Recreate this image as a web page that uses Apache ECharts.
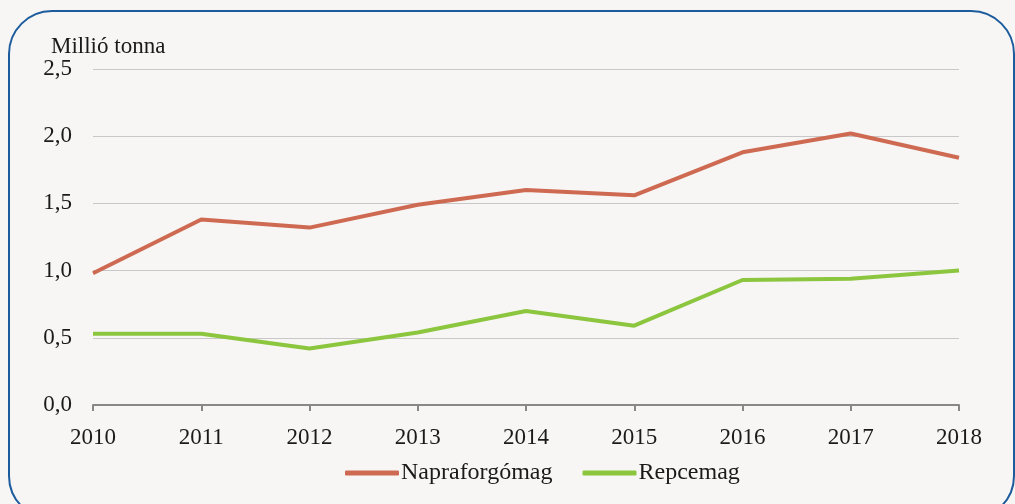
<!DOCTYPE html>
<html>
<head>
<meta charset="utf-8">
<script src="https://cdn.jsdelivr.net/npm/echarts@6/dist/echarts.min.js"></script>
<style>
  html, body { margin: 0; padding: 0; background: #f7f6f5; overflow: hidden; }
  .frame {
    position: absolute; left: 8px; top: 10px; width: 1007px; height: 510px;
    border: 2px solid #1d5c9c; border-radius: 44px; box-sizing: border-box;
  }
  #chart { position: absolute; left: 0; top: 0; width: 1015px; height: 504px; }
</style>
</head>
<body>
<div class="frame"></div>
<div id="chart"></div>
<script>
const years = ['2010', '2011', '2012', '2013', '2014', '2015', '2016', '2017', '2018']
const napraforgo = [0.98, 1.38, 1.32, 1.49, 1.60, 1.56, 1.88, 2.02, 1.84]
const repce = [0.53, 0.53, 0.42, 0.54, 0.70, 0.59, 0.93, 0.94, 1.00]

const font = '"Liberation Serif", "DejaVu Serif", serif'
const textColor = '#1a1a1a'

const chart = echarts.init(document.getElementById('chart'))
chart.setOption({
  backgroundColor: 'transparent',
  animation: false,
  textStyle: { fontFamily: font },
  title: {
    text: 'Millió tonna',
    left: 46, top: 30,
    textStyle: { fontFamily: font, fontSize: 23, fontWeight: 'normal', color: textColor }
  },
  legend: {
    bottom: 14,
    left: 340,
    itemWidth: 54, itemHeight: 5, itemGap: 30,
    icon: 'roundRect',
    textStyle: { fontFamily: font, fontSize: 24, color: textColor, padding: [0, 0, 0, -3] },
    data: ['Napraforgómag', 'Repcemag']
  },
  grid: { left: 93, right: 56, top: 69, bottom: 99 },
  xAxis: {
    type: 'category',
    data: years,
    boundaryGap: false,
    axisLine: { lineStyle: { color: '#888', width: 2 } },
    axisTick: { show: true, inside: false, length: 6, lineStyle: { color: '#888', width: 2 } },
    axisLabel: { color: textColor, fontSize: 23, fontFamily: font, margin: 21 },
    splitLine: { show: false }
  },
  yAxis: {
    type: 'value',
    min: 0, max: 2.5, interval: 0.5,
    axisLine: { show: false },
    axisTick: { show: false },
    axisLabel: {
      color: textColor, fontSize: 23, fontFamily: font, margin: 21,
      formatter: v => v.toFixed(1).replace('.', ',')
    },
    splitLine: { lineStyle: { color: '#c8c8c8', width: 1 } }
  },
  series: [
    {
      name: 'Napraforgómag', type: 'line', data: napraforgo,
      symbol: 'none', lineStyle: { width: 4, color: '#cf6a52' }, itemStyle: { color: '#cf6a52' }
    },
    {
      name: 'Repcemag', type: 'line', data: repce,
      symbol: 'none', lineStyle: { width: 4, color: '#8cc63f' }, itemStyle: { color: '#8cc63f' }
    }
  ]
})
</script>
</body>
</html>
